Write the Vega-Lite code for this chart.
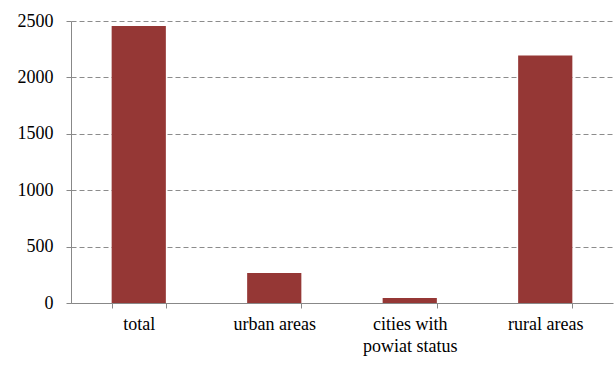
{
  "$schema": "https://vega.github.io/schema/vega-lite/v6.json",
  "width": 542,
  "height": 282,
  "autosize": {"type": "none"},
  "padding": {"left": 71, "top": 21, "right": 1, "bottom": 62},
  "background": "white",
  "config": {
    "view": {"stroke": null},
    "font": "Times New Roman, Liberation Serif, serif"
  },
  "data": {
    "values": [
      {"category": "total", "value": 2456},
      {"category": "urban areas", "value": 265},
      {"category": "cities with powiat status", "value": 44},
      {"category": "rural areas", "value": 2195}
    ]
  },
  "mark": {"type": "bar", "color": "#953735"},
  "encoding": {
    "x": {
      "field": "category",
      "type": "nominal",
      "sort": null,
      "scale": {"paddingInner": 0.6, "paddingOuter": 0.3},
      "axis": {
        "title": null,
        "labelAngle": 0,
        "labelFont": "Times New Roman, Liberation Serif, serif",
        "labelFontSize": 18,
        "labelColor": "#000000",
        "labelExpr": "datum.label == 'cities with powiat status' ? ['cities with', 'powiat status'] : datum.label",
        "labelLineHeight": 22,
        "labelPadding": 7,
        "tickBand": "extent",
        "tickSize": 5,
        "tickColor": "#888888",
        "domainColor": "#888888",
        "grid": false
      }
    },
    "y": {
      "field": "value",
      "type": "quantitative",
      "scale": {"domain": [0, 2500]},
      "axis": {
        "title": null,
        "values": [0, 500, 1000, 1500, 2000, 2500],
        "format": "d",
        "labelFont": "Times New Roman, Liberation Serif, serif",
        "labelFontSize": 18,
        "labelColor": "#000000",
        "tickSize": 5,
        "tickColor": "#888888",
        "domainColor": "#888888",
        "labelPadding": 13,
        "grid": true,
        "gridColor": "#8c8c8c",
        "gridDash": [5, 3],
        "gridWidth": 1
      }
    }
  }
}
